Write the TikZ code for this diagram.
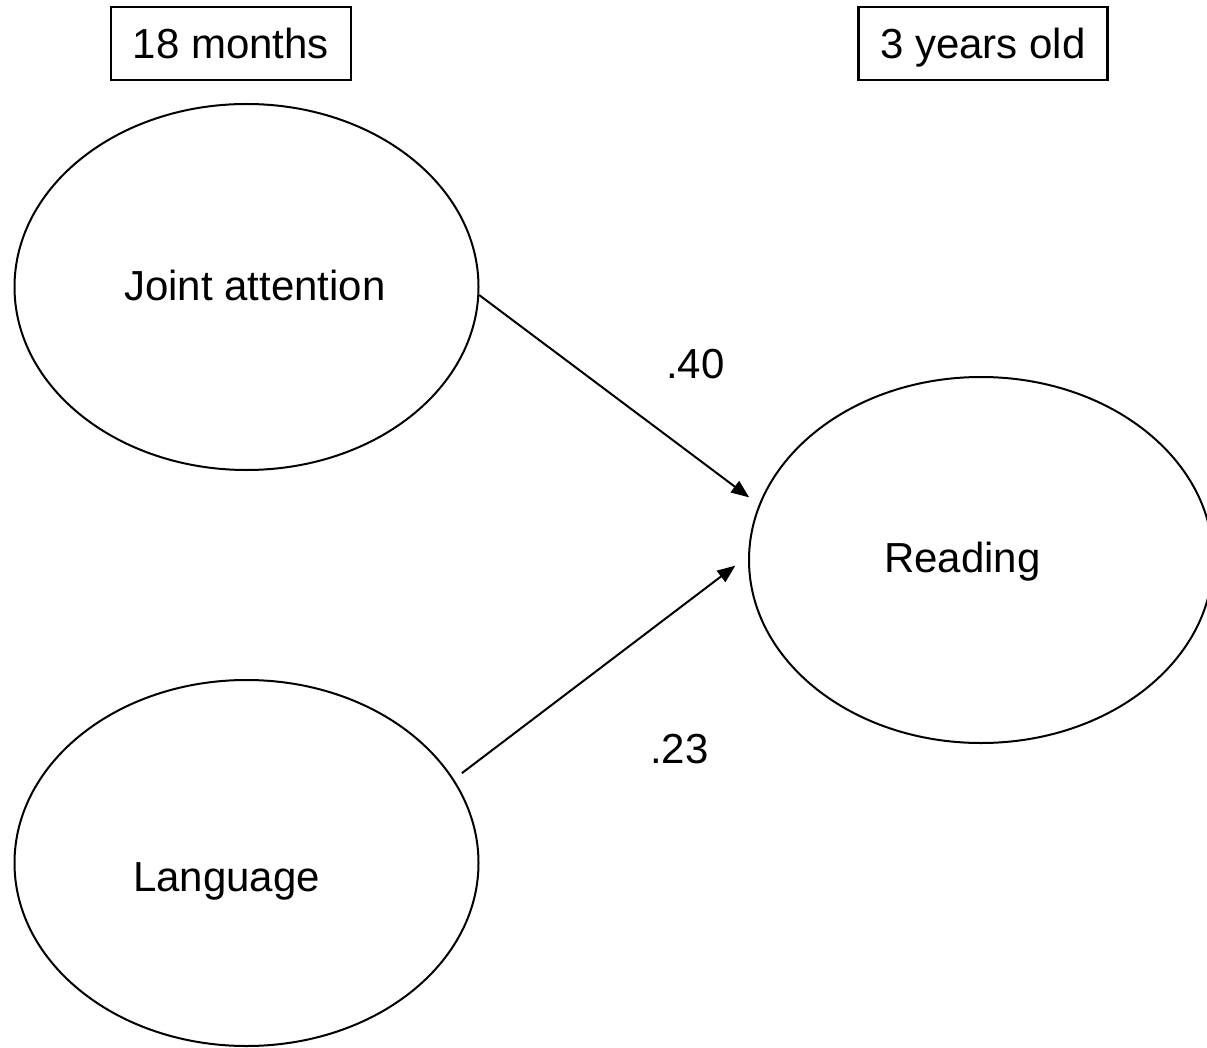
\documentclass[tikz,border=0pt]{standalone}
\usepackage{fontspec}
\setmainfont{Liberation Sans}
\usetikzlibrary{arrows.meta,shapes.geometric}
\begin{document}
\begin{tikzpicture}[x=1pt,y=-1pt,
  lbl/.style={font=\fontsize{42}{50}\selectfont, inner sep=0pt, anchor=base},
  latent/.style={draw, ellipse, line width=2pt, minimum width=464pt, minimum height=366pt, inner sep=0pt},
  agebox/.style={draw, line width=2.5pt, font=\fontsize{42}{50}\selectfont, minimum height=73pt, inner xsep=22pt, inner ysep=0pt, text height=30pt, text depth=0pt},
  effect/.style={line width=2pt, -{Triangle[length=18pt,width=14pt]}}]
\useasboundingbox (0,0) rectangle (1207,1048);
\fill[white] (0,0) rectangle (1207,1048);

\node[agebox] (b18) at (231,43.5) {18 months};
\node[agebox] (b3) at (983,43.5) {3 years old};

\node[latent] (ja) at (246.5,287) {};
\node[latent] (lg) at (246.5,863) {};
\node[latent] (rd) at (981,560) {};

\node[lbl] (jat) at (255,301) {Joint attention};
\node[lbl] (lgt) at (226.5,891) {Language};
\node[lbl] (rdt) at (962.5,572) {Reading};

\node[lbl] (c40) at (695.5,378) {.40};
\node[lbl] (c23) at (679.5,763) {.23};

\draw[effect, shorten >=12pt] (ja.-2) -- (rd.166);
\draw[effect, shorten <=10pt, shorten >=16pt] (lg.22) -- (rd.179);
\end{tikzpicture}
\end{document}
